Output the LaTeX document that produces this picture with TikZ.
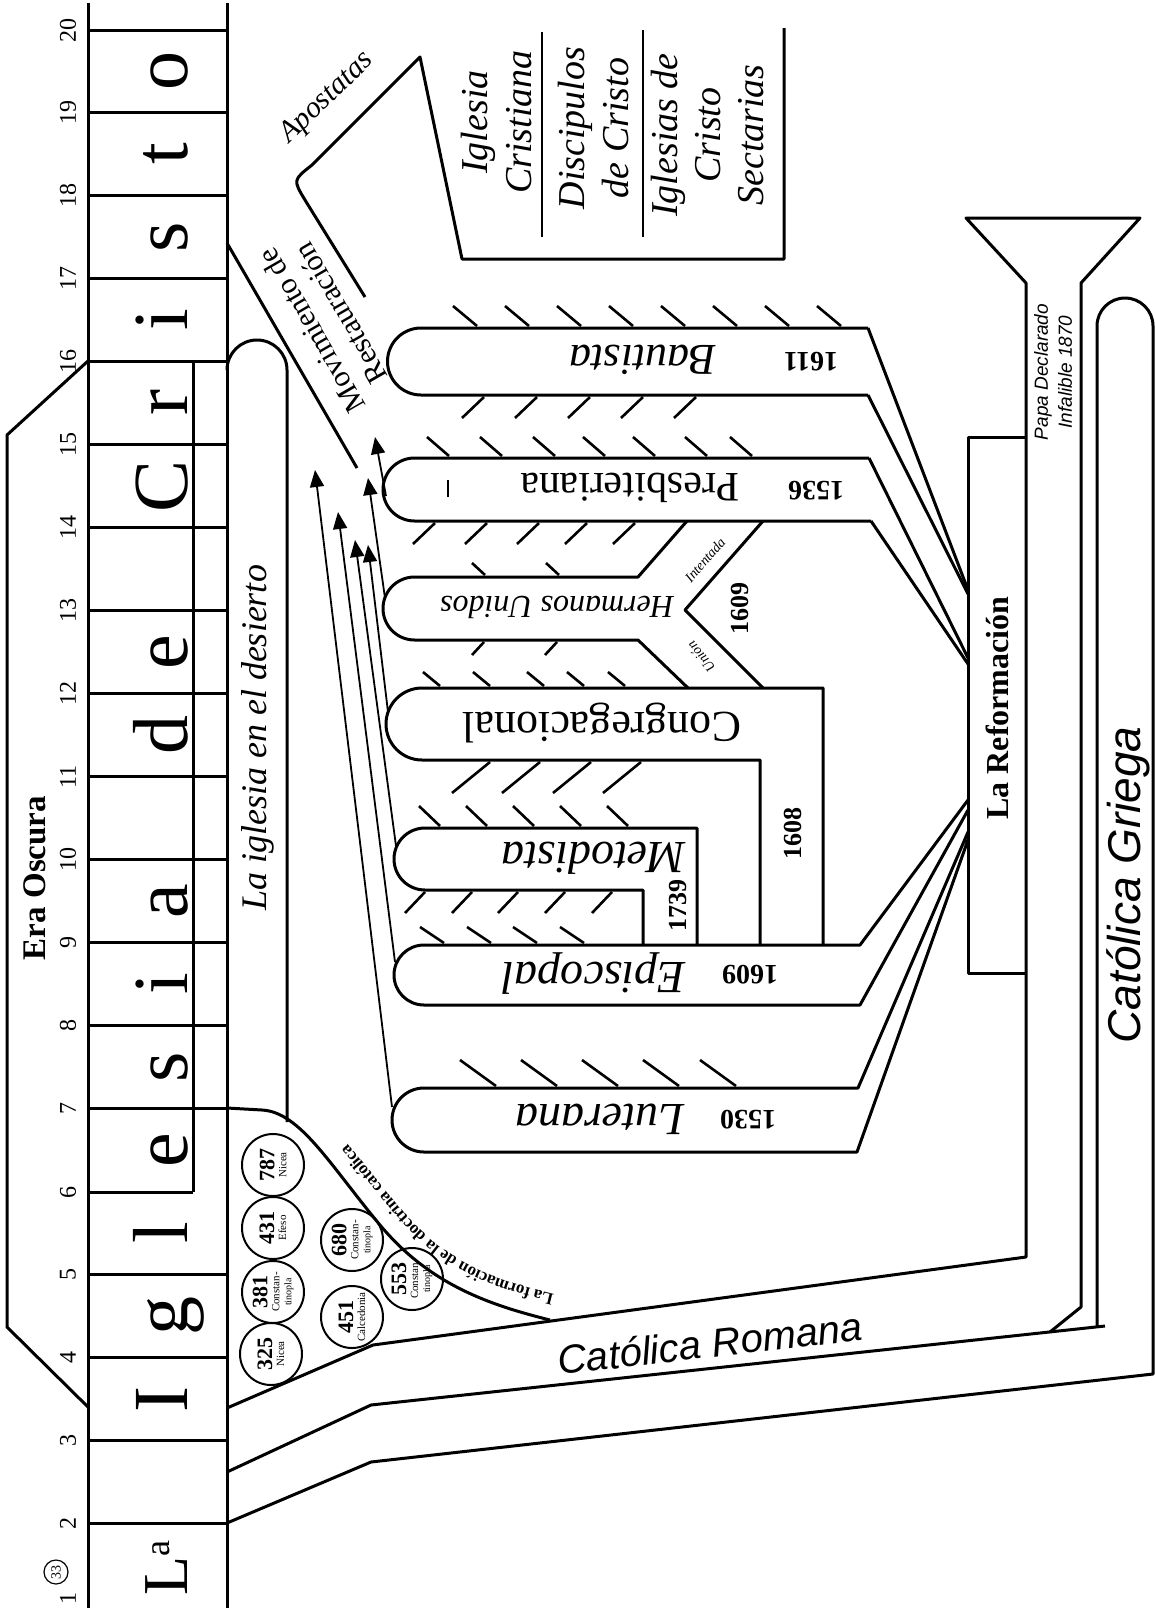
\documentclass[tikz,border=0pt]{standalone}
\usepackage{fontspec}
\setmainfont{Liberation Serif}
\newfontfamily\sansf{Liberation Sans}
\usetikzlibrary{arrows.meta,decorations.text}
\newcommand\fsz[1]{\fontsize{#1}{#1}\selectfont}
\begin{document}
\begin{tikzpicture}[x=1pt,y=-1pt,
  ln/.style={line width=3pt,line join=round},
  hatchln/.style={line width=2.6pt},
  arr/.style={line width=1.8pt,-{Triangle[length=17pt,width=14pt]}},
  council/.style={circle,draw,line width=2pt,minimum size=62pt,inner sep=0pt,rotate=90,align=center},
  bigl/.style={rotate=90,anchor=base,font=\fsz{78}},
  yr/.style={rotate=90,font=\fsz{24}},
  denom/.style={rotate=180,font=\itshape\fsz{44}},
  denomup/.style={rotate=180,font=\fsz{42}},
  dyr/.style={rotate=180,font=\bfseries\fsz{28}},
  vyr/.style={rotate=90,font=\bfseries\fsz{26}},
]
\useasboundingbox (0,0) rectangle (1155,1614);

% ---------- timeline column ----------
\draw[ln] (88,3) -- (88,1608);
\draw[ln] (227,3) -- (227,1608);
\draw[ln] (193,361) -- (193,1192);
\foreach \n in {2,3,4,5,8,9,10,11,12,13,14,15,16,17,18,19,20} {
  \pgfmathsetmacro\yy{30+(20-\n)*82.95}
  \draw[ln] (88,\yy) -- (227,\yy);
  \node[yr] (num\n) at (68,\yy) {\n};
}
\draw[ln] (88,1108) -- (227,1108);
\node[yr] (num7) at (68,1108) {7};
\draw[ln] (88,1192) -- (193,1192);
\node[yr] (num6) at (68,1192) {6};
\node[yr] (num1) at (68,1598) {1};
\node[circle,draw,line width=1.2pt,inner sep=0pt,minimum size=24pt,rotate=90,font=\fsz{14}] (c33) at (56,1572) {33};

\foreach \c/\yc [count=\i] in {I/1399,g/1316,l/1233,e/1150,s/1067,i/984,a/901,d/735,e/652,C/486,r/403,i/320,s/237,t/154,o/71}
  \node[bigl] (let\i) at (187,\yc) {\c};
\node[rotate=90,anchor=base,font=\fsz{64}] (letLa) at (187,1568) {L\raisebox{18pt}{\fsz{36}a}};

% ---------- Era Oscura ----------
\draw[ln] (88,361) -- (7,435) -- (7,1327) -- (88,1407);
\node[rotate=90,font=\bfseries\fsz{33}] (era) at (35,878) {Era Oscura};

% ---------- church in the wilderness ----------
\draw[ln] (227,370) arc[start angle=180,end angle=0,radius=30pt] -- (287,1122);
\node[rotate=90,anchor=base,font=\itshape\fsz{36}] (desierto) at (266,738) {La iglesia en el desierto};

% formation curve
\draw[ln] (227,1108) -- (262,1110) .. controls (300,1112) and (330,1165) .. (380,1225)
   .. controls (430,1285) and (490,1305) .. (550,1320);
\path[decorate,decoration={text along path,
   text={|\bfseries\fsz{17}|La formación de la doctrina católica},
   text align={left indent=4pt}}]
   (558,1295) .. controls (498,1280) and (450,1268) .. (400,1208)
   .. controls (350,1148) and (309,1088) .. (262,1085);

% councils
\node[council] (c787) at (273,1165) {\textbf{\fontsize{22}{20}\selectfont 787}\\\fsz{11}Nicea};
\node[council] (c431) at (273,1228) {\textbf{\fontsize{22}{20}\selectfont 431}\\\fsz{11}Efeso};
\node[council] (c381) at (273,1292) {\textbf{\fontsize{22}{20}\selectfont 381}\\\fontsize{11}{10}\selectfont Constan-\\tinopla};
\node[council] (c325) at (271,1354) {\textbf{\fontsize{22}{20}\selectfont 325}\\\fsz{11}Nicea};
\node[council] (c680) at (352,1240) {\textbf{\fontsize{22}{20}\selectfont 680}\\\fontsize{11}{10}\selectfont Constan-\\tinopla};
\node[council] (c451) at (352,1317) {\textbf{\fontsize{22}{20}\selectfont 451}\\\fsz{11}Calcedonia};
\node[council] (c553) at (412,1279) {\textbf{\fontsize{22}{20}\selectfont 553}\\\fontsize{11}{10}\selectfont Constan-\\tinopla};

% ---------- Catolica Romana / Griega ----------
\draw[ln] (227,1408) -- (373,1345) -- (1026,1257) -- (1026,283) -- (966,218) -- (1140,218) -- (1081,283) -- (1081,1307) -- (1050,1332);
\draw[ln] (227,1472) -- (371,1405) -- (1105,1326);
\draw[ln] (1097,1327) -- (1097,326) arc[start angle=180,end angle=0,radius=28pt] -- (1153,1374) -- (371,1462) -- (227,1523);
\node[rotate=6.5,font=\sansf\itshape\fsz{40}] (romana) at (710,1343) {Católica Romana};
\node[rotate=90,font=\sansf\itshape\fsz{46}] (griega) at (1128,885) {Católica Griega};
\node[rotate=90,align=center,font=\sansf\itshape\fontsize{19}{24}\selectfont] (papa) at (1053,372) {Papa Declarado\\Infalible 1870};

% ---------- Reformation box ----------
\draw[ln] (1026,437) -- (968,437) -- (968,973) -- (1026,973);
\node[rotate=90,font=\bfseries\fsz{32}] (reform) at (997,708) {La Reformación};

% ---------- denominations ----------
% Bautista
\draw[ln] (868,328) -- (421,328) arc[start angle=90,end angle=270,radius=33.5pt] -- (868,395);
\draw[ln] (868,328) -- (968,590);
\draw[ln] (868,395) -- (968,594);
\node[denom] (baut) at (643,360) {Bautista};
\node[dyr] (y1611) at (811,362) {1611};
% Presbiteriana
\draw[ln] (869,458) -- (414.5,458) arc[start angle=90,end angle=270,radius=31.5pt] -- (871,521);
\draw[ln] (869,458) -- (968,658);
\draw[ln] (871,521) -- (968,664);
\draw[line width=1.5pt] (448,480) -- (448,497);
\node[denomup] (presb) at (630,488) {Presbiteriana};
\node[dyr] (y1536) at (816,491) {1536};
% Hermanos Unidos
\draw[ln] (687,521) -- (638,577) -- (414.5,577) arc[start angle=90,end angle=270,radius=31.5pt] -- (638,640) -- (688,688);
\draw[ln] (763,521) -- (685,610) -- (763,688);
\node[rotate=180,font=\itshape\fsz{32}] (herm) at (557,607) {Hermanos Unidos};
\node[rotate=49,font=\itshape\fsz{14}] (intent) at (705,560) {Intentada};
\node[rotate=130,font=\itshape\fsz{14}] (union) at (701,657) {Unión};
\node[vyr] (y1609a) at (740,608) {1609};
% Congregacional
\draw[ln] (823,945) -- (823,688) -- (422,688) arc[start angle=90,end angle=270,radius=36pt] -- (760,760) -- (760,945);
\node[denomup,font=\fsz{44}] (congr) at (602,723) {Congregacional};
\node[vyr] (y1608) at (793,833) {1608};
% Metodista
\draw[ln] (697,945) -- (697,828) -- (425,828) arc[start angle=90,end angle=270,radius=31pt] -- (643,890) -- (643,945);
\node[denom,font=\itshape\fsz{46}] (metod) at (594,858) {Metodista};
\node[vyr] (y1739) at (678,905) {1739};
% Episcopal
\draw[ln] (968,800) -- (860,945) -- (424,945) arc[start angle=90,end angle=270,radius=30pt] -- (860,1005) -- (968,810);
\node[denom,font=\itshape\fsz{46}] (episc) at (594,974) {Episcopal};
\node[dyr] (y1609b) at (750,975) {1609};
% Luterana
\draw[ln] (968,832) -- (858,1088) -- (424,1088) arc[start angle=90,end angle=270,radius=32pt] -- (857,1152) -- (968,840);
\node[denom,font=\itshape\fsz{46}] (luter) at (600,1119) {Luterana};
\node[dyr] (y1530) at (748,1120) {1530};

% hatches
\foreach \x in {453,505,557,609,661,713,765,817} \draw[hatchln] (\x,306) -- (\x+24,326);
\foreach \x in {462,515,568,621,674} \draw[hatchln] (\x,418) -- (\x+22,397);
\foreach \x in {427,480,533,583,633,685,730} \draw[hatchln] (\x,437) -- (\x+22,456);
\foreach \x in {413,465,517,565,613} \draw[hatchln] (\x,544) -- (\x+22,523);
\foreach \x in {472,546} \draw[hatchln] (\x,563) -- (\x+13,575);
\foreach \x in {472,545} \draw[hatchln] (\x,655) -- (\x+12,642);
\foreach \x in {423,473,527,567,608} \draw[hatchln] (\x,672) -- (\x+17,686);
\foreach \x in {452,502,553,603} \draw[hatchln] (\x,793) -- (\x+38,762);
\foreach \x in {419,466,513,560,607} \draw[hatchln] (\x,806) -- (\x+21,826);
\foreach \x in {405,452,498,545,592} \draw[hatchln] (\x,913) -- (\x+20,892);
\foreach \x in {420,467,513,560} \draw[hatchln] (\x,927) -- (\x+24,943);
\foreach \x in {460,521,582,643,700} \draw[hatchln] (\x,1060) -- (\x+36,1086);

% ---------- Restoration ----------
\draw[ln] (227,243) -- (357,468);
\node[rotate=120,align=center,font=\fontsize{30}{34}\selectfont] (rest) at (326,322) {Movimiento de\\Restauración};
\draw[arr] (392,1107) -- (315,470);
\draw[arr] (395,962) -- (338,512);
\draw[arr] (396,846) -- (355,540);
\draw[arr] (388,712) -- (368,545);
\draw[arr] (385,598) -- (368,478);
\draw[arr] (386,496) -- (375,437);

% ---------- Apostatas and Restoration churches ----------
\draw[ln] (365,297) -- (305,200) .. controls (293,180) .. (312,165) -- (420,57) -- (462,259) -- (784,259) -- (784,28);
\node[rotate=44,font=\itshape\fsz{30}] (apo) at (327,98) {Apostatas};
\draw[line width=1.5pt] (542,32) -- (542,237);
\draw[line width=1.5pt] (643,30) -- (643,237);
\node[rotate=90,align=center,font=\itshape\fontsize{38}{44}\selectfont] (ic) at (497,122) {Iglesia\\Cristiana};
\node[rotate=90,align=center,font=\itshape\fontsize{38}{44}\selectfont] (dc) at (594,128) {Discipulos\\de Cristo};
\node[rotate=90,align=center,font=\itshape\fontsize{38}{43}\selectfont] (ics) at (708,135) {Iglesias de\\Cristo\\Sectarias};
\end{tikzpicture}
\end{document}
